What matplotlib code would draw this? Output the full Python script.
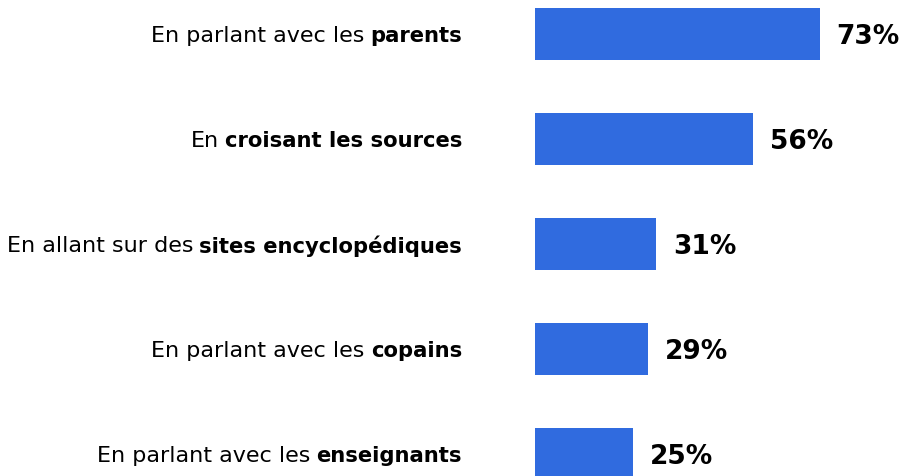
import matplotlib
matplotlib.use("Agg")
import matplotlib.pyplot as plt

labels_normal = ["En parlant avec les", "En", "En allant sur des", "En parlant avec les", "En parlant avec les"]
labels_bold = ["parents", "croisant les sources", "sites encyclopédiques", "copains", "enseignants"]
values = [73, 56, 31, 29, 25]

BAR_COLOR = "#306BDF"
W, H, DPI = 905, 477, 100
fig = plt.figure(figsize=(W / DPI, H / DPI), dpi=DPI)
ax = fig.add_axes([0, 0, 1, 1])
ax.set_axis_off()

px_per_unit = 3.9
x0_px = 535
ax.set_xlim(-x0_px / px_per_unit, (W - x0_px) / px_per_unit)
ax.set_ylim(4 + (H - 455) / 105, -35 / 105)

ypos = list(range(len(values)))
ax.barh(ypos, values, height=0.5, color=BAR_COLOR, edgecolor="none")

lab_font = "DejaVu Sans"
val_font = "DejaVu Sans"
label_right = (462 - x0_px) / px_per_unit
fig.canvas.draw()
renderer = fig.canvas.get_renderer()
for y, n, b, v in zip(ypos, labels_normal, labels_bold, values):
    tb = ax.text(label_right, y + 0.01, b, ha="right", va="center", fontsize=15.2,
                 fontweight="bold", family=lab_font, color="black")
    ext = tb.get_window_extent(renderer=renderer)
    left_data = ax.transData.inverted().transform((ext.x0 - 6, 0))[0]
    ax.text(left_data, y + 0.01, n, ha="right", va="center", fontsize=16,
            family=lab_font, color="black")
    ax.text(v + 17 / px_per_unit, y + 0.02, f"{v}%", ha="left", va="center",
            fontsize=19, fontweight="bold", family=val_font, color="black")

fig.savefig("out.png", dpi=DPI)
